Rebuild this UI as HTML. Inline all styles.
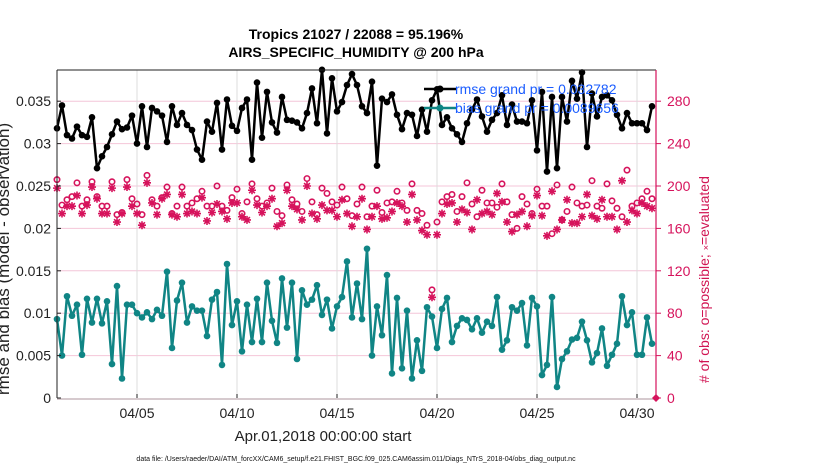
<!DOCTYPE html>
<html><head><meta charset="utf-8"><style>
html,body{margin:0;padding:0;background:#fff;}
svg{display:block;font-family:"Liberation Sans",Arial,sans-serif;}
</style></head><body>
<svg id="chart" width="830" height="470" viewBox="0 0 830 470" xmlns="http://www.w3.org/2000/svg">
<g id="grid"></g>
<g id="series"></g>
<g id="axes"></g>
<text x="356" y="39" text-anchor="middle" font-size="14" font-weight="bold">Tropics 21027 / 22088 = 95.196%</text>
<text x="356" y="57" text-anchor="middle" font-size="14" font-weight="bold">AIRS_SPECIFIC_HUMIDITY @ 200 hPa</text>
<text transform="translate(9,395) rotate(-90)" font-size="17" fill="#222">rmse and bias (model - observation)</text>
<text transform="translate(709,383) rotate(-90)" font-size="14" fill="#d11553">#  of obs: o=possible; <tspan font-size="9">×</tspan>=evaluated</text>
<text x="323" y="441" text-anchor="middle" font-size="15" fill="#222">Apr.01,2018 00:00:00 start</text>
<text x="356" y="461" text-anchor="middle" font-size="7" fill="#111">data file: /Users/raeder/DAI/ATM_forcXX/CAM6_setup/f.e21.FHIST_BGC.f09_025.CAM6assim.011/Diags_NTrS_2018-04/obs_diag_output.nc</text>
<g id="legend">
<line x1="424" y1="89" x2="456" y2="89" stroke="#000" stroke-width="2.5"/>
<circle cx="440" cy="89" r="3.5" fill="#000"/>
<text x="455" y="94" font-size="14" fill="#1a5cff">rmse grand pr = 0.032782</text>
<line x1="424" y1="108" x2="456" y2="108" stroke="#108585" stroke-width="2.5"/>
<circle cx="440" cy="108" r="3.5" fill="#108585"/>
<text x="455" y="113" font-size="14" fill="#1a5cff">bias grand pr = 0.0089656</text>
</g>
</svg>
<script>
const rmse=[0.0318,0.0345,0.0310,0.0306,0.0320,0.0310,0.0308,0.0331,0.0271,0.0285,0.0296,0.0311,0.0326,0.0317,0.0319,0.0333,0.0300,0.0344,0.0296,0.0342,0.0338,0.0333,0.0302,0.0344,0.0322,0.0336,0.0322,0.0316,0.0293,0.0281,0.0326,0.0314,0.0348,0.0293,0.0352,0.0321,0.0315,0.0342,0.0352,0.0281,0.0372,0.0307,
0.0361,0.0325,0.0313,0.0355,0.0328,0.0327,0.0325,0.0318,0.0336,0.0365,0.0324,0.0387,0.0312,0.0377,0.0338,0.0349,0.0369,0.0382,0.0369,0.0344,0.0336,0.0373,0.0274,0.0353,0.0349,0.0358,0.0334,0.0317,0.0336,0.0334,0.0309,0.0340,0.0314,0.0351,0.0364,0.0322,0.0331,0.0318,0.0311,0.0302,
0.0324,0.0340,0.0352,0.0332,0.0314,0.0328,0.0336,0.0357,0.0322,0.0346,0.0326,0.0326,0.0324,0.0351,0.0292,0.0361,0.0267,0.0355,0.0271,0.0355,0.0326,0.0374,0.0353,0.0384,0.0296,0.0359,0.0332,0.0355,0.0357,0.0351,0.0334,0.0318,0.0336,0.0324,0.0324,0.0324,0.0316,0.0344];
const bias=[0.0093,0.0050,0.0120,0.0097,0.0110,0.0051,0.0117,0.0089,0.0117,0.0088,0.0114,0.0040,0.0132,0.0023,0.0110,0.0110,0.0100,0.0095,0.0101,0.0093,0.0104,0.0097,0.0149,0.0059,0.0115,0.0136,0.0089,0.0108,0.0103,0.0103,0.0073,0.0116,0.0125,0.0039,0.0158,0.0086,0.0114,0.0055,0.0110,0.0066,0.0117,0.0066,
0.0136,0.0091,0.0065,0.0141,0.0083,0.0136,0.0046,0.0127,0.0110,0.0116,0.0133,0.0098,0.0116,0.0082,0.0108,0.0119,0.0161,0.0095,0.0135,0.0093,0.0176,0.0050,0.0108,0.0074,0.0145,0.0029,0.0118,0.0035,0.0103,0.0023,0.0068,0.0032,0.0107,0.0096,0.0059,0.0105,0.0118,0.0066,0.0085,0.0094,
0.0092,0.0081,0.0094,0.0077,0.0090,0.0085,0.0119,0.0057,0.0068,0.0107,0.0103,0.0112,0.0062,0.0118,0.0108,0.0027,0.0039,0.0119,0.0013,0.0046,0.0055,0.0069,0.0071,0.0090,0.0068,0.0042,0.0053,0.0082,0.0038,0.0051,0.0064,0.0120,0.0086,0.0101,0.0051,0.0051,0.0095,0.0064];
const possible=[206,182,187,190,203,181,187,204,190,181,181,204,173,175,206,188,183,173,210,187,181,189,199,174,181,199,181,184,188,195,181,181,200,181,177,189,197,174,185,202,188,181,
184,198,176,172,201,187,183,176,207,185,173,198,193,185,182,199,188,172,183,199,171,181,196,175,184,185,195,184,177,202,177,174,163,102,166,185,190,192,176,190,
203,183,171,196,184,184,180,202,185,173,160,190,183,174,197,181,181,155,201,168,176,199,184,181,182,205,181,179,202,186,179,171,215,181,184,188,195,188];
const evaluated=[198,174,181,181,191,174,182,199,188,174,174,198,166,174,199,181,174,163,203,184,173,188,192,173,171,192,174,176,174,189,167,175,183,176,169,184,184,171,168,196,182,175,
181,188,162,165,196,181,178,168,200,174,169,182,177,177,171,187,174,162,171,188,159,171,181,169,170,176,184,181,166,192,168,158,154,95,154,174,183,184,166,178,
175,159,187,174,176,173,193,185,166,157,173,176,162,172,191,172,153,195,159,168,187,165,165,171,192,172,169,187,171,171,159,205,166,177,174,184,181,179];
const leftTicks=[0,0.005,0.01,0.015,0.02,0.025,0.03,0.035];
const leftTickLabels=["0","0.005","0.01","0.015","0.02","0.025","0.03","0.035"];
const rightTicks=[0,40,80,120,160,200,240,280];
const xTickDays=[4,9,14,19,24,29];
const xTickLabels=["04/05","04/10","04/15","04/20","04/25","04/30"];

const NS="http://www.w3.org/2000/svg";
const L=57,R=656,T=70,B=398;
function xs(i){return L+20*(i/4);}
function xd(d){return L+20*d;}
function yl(v){return B-v*8480;}
function yr(n){return B-n*1.06;}
function mk(tag,attrs,parent){const e=document.createElementNS(NS,tag);for(const k in attrs)e.setAttribute(k,attrs[k]);parent.appendChild(e);return e;}
const grid=document.getElementById('grid'),series=document.getElementById('series'),axes=document.getElementById('axes');

leftTicks.forEach((v,k)=>{if(k===0)return;const g=mk('line',{x1:L,x2:R,y1:yl(v),y2:yl(v),stroke:'#f4c6d8','stroke-width':1},grid);

});
xTickDays.forEach(d=>{const g=mk('line',{x1:xd(d),x2:xd(d),y1:T,y2:B,stroke:'#dcdcdc','stroke-width':1},grid);

});

function star(cx,cy,p){const s=4,d=2.9;
const e=mk('path',{d:`M${cx-s},${cy}H${cx+s}M${cx},${cy-s}V${cy+s}M${cx-d},${cy-d}L${cx+d},${cy+d}M${cx-d},${cy+d}L${cx+d},${cy-d}`,stroke:'#d6135c','stroke-width':1.6,fill:'none'},p);return e;}
possible.forEach((n,i)=>{const c=mk('circle',{cx:xs(i),cy:yr(n),r:2.7,fill:'none',stroke:'#d6135c','stroke-width':1.6},series);

});
evaluated.forEach((n,i)=>{const c=star(xs(i),yr(n),series);

});

function line(arr,col,name){const pts=arr.map((v,i)=>xs(i).toFixed(1)+','+yl(v).toFixed(1)).join(' ');
const pl=mk('polyline',{points:pts,fill:'none',stroke:col,'stroke-width':2.5,'stroke-linejoin':'round'},series);


arr.forEach((v,i)=>{const c=mk('circle',{cx:xs(i),cy:yl(v),r:3.3,fill:col},series);

});}
line(rmse,'#000','rmse');
line(bias,'#108585','bias');

let a=mk('line',{x1:L,x2:L,y1:T,y2:B,stroke:'#222','stroke-width':1},axes);


a=mk('line',{x1:L,x2:R,y1:T,y2:T,stroke:'#222','stroke-width':1},axes);


a=mk('line',{x1:L,x2:R,y1:B+1,y2:B+1,stroke:'#c9b9bd','stroke-width':1.5},axes);


a=mk('line',{x1:R,x2:R,y1:T,y2:B,stroke:'#d6135c','stroke-width':1.2},axes);


a=mk('path',{d:`M${R-4},${B}L${R},${B-4}L${R+4},${B}L${R},${B+4}Z`,fill:'#d6135c'},axes);


leftTicks.forEach((v,k)=>{const t=mk('text',{x:L-6,y:yl(v)+5,'text-anchor':'end','font-size':14,fill:'#222'},axes);t.textContent=leftTickLabels[k];


mk('line',{x1:L,x2:L+4,y1:yl(v),y2:yl(v),stroke:'#222'},axes);});
rightTicks.forEach(n=>{const t=mk('text',{x:R+11,y:yr(n)+5,'font-size':14,fill:'#d6135c'},axes);t.textContent=String(n);


mk('line',{x1:R,x2:R+5,y1:yr(n),y2:yr(n),stroke:'#d6135c'},axes);});
xTickDays.forEach((d,k)=>{const t=mk('text',{x:xd(d),y:B+20,'text-anchor':'middle','font-size':14,fill:'#222'},axes);t.textContent=xTickLabels[k];


mk('line',{x1:xd(d),x2:xd(d),y1:B,y2:B-4,stroke:'#222'},axes);});
</script>
</body></html>
